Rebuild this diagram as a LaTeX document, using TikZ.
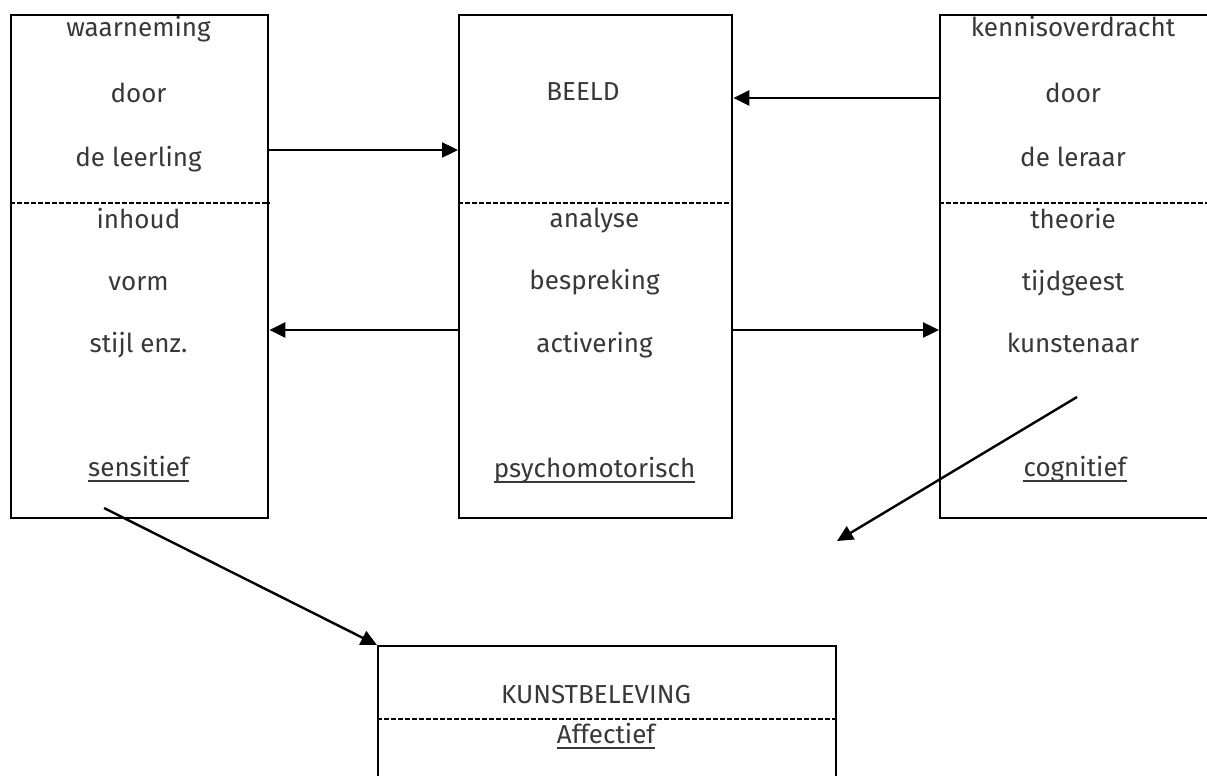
\documentclass[tikz,border=0pt]{standalone}
\usepackage{fontspec}
\setmainfont{Fira Sans}
\usepackage{xcolor}
\usetikzlibrary{arrows.meta}
\definecolor{txtgrey}{HTML}{383838}
\tikzset{
  box/.style={draw, line width=2.4pt, anchor=north west, inner sep=0pt},
  divider/.style={line width=1.4pt, dash pattern=on 4.5pt off 2.5pt},
  lbl/.style={anchor=base, inner sep=0pt, text=txtgrey, font=\fontsize{26}{30}\selectfont},
  uline/.style={line width=1.8pt, draw=txtgrey},
  arr/.style={line width=2.4pt, -{Triangle[length=16pt,width=15pt]}}
}

\begin{document}
\begin{tikzpicture}[x=1pt,y=-1pt]
\useasboundingbox (0,0) rectangle (1207,776);
\clip (0,0) rectangle (1207,776);
% boxes
\node[box, minimum width=257pt, minimum height=503pt] (lbox) at (10,14) {};
\node[box, minimum width=273pt, minimum height=503pt] (mbox) at (458,14) {};
\node[box, minimum width=272pt, minimum height=503pt] (rbox) at (939,14) {};
\node[box, minimum width=458pt, minimum height=200pt] (bbox) at (377,645) {};
\coordinate (cut) at (0,203);
\coordinate (cutb) at (0,719);
\draw[divider] (lbox.west |- cut) -- (lbox.east |- cut);
\draw[divider] (mbox.west |- cut) -- (mbox.east |- cut);
\draw[divider] (rbox.west |- cut) -- (rbox.east |- cut);
\draw[divider] (bbox.west |- cutb) -- (bbox.east |- cutb);
% texts
\foreach \t/\y [count=\i] in {waarneming/37, door/102, de leerling/166, inhoud/228, vorm/290, stijl enz./352}
	{
	\node[lbl] (l\i) at (138.5,\y) {\t};
	}
\foreach \t/\y [count=\i] in {analyse/227, bespreking/289, activering/352}
	{
	\node[lbl] (m\i) at (594.5,\y) {\t};
	}
\foreach \t/\y [count=\i] in {kennisoverdracht/37, door/102, de leraar/166, theorie/228, tijdgeest/290, kunstenaar/352}
	{
	\node[lbl] (r\i) at (1073,\y) {\t};
	}
\node[lbl] (beeld) at (583,100) {BEELD};
\node[lbl] (kunst) at (596,703) {KUNSTBELEVING};
\node[lbl] (sens) at (138.5,476) {sensitief};
\node[lbl] (psy) at (594.5,477) {psychomotorisch};
\node[lbl] (cog) at (1075,476) {cognitief};
\node[lbl] (aff) at (606,743) {Affectief};
\foreach \n in {sens,psy,cog,aff}
	{
	\draw[uline] ([yshift=-5pt]\n.base west) -- ([yshift=-5pt]\n.base east);
	}
% arrows
\coordinate (hi) at (0,150);
\coordinate (top) at (0,98);
\coordinate (mid) at (0,330);
\draw[arr] (lbox.east |- hi) -- (mbox.west |- hi);
\draw[arr] (rbox.west |- top) -- (mbox.east |- top);
\draw[arr] (mbox.west |- mid) -- (lbox.east |- mid);
\draw[arr] (mbox.east |- mid) -- (rbox.west |- mid);
\coordinate (s1) at (104,508);
\coordinate (s2) at (1077,397);
\coordinate (e2) at (837,541);
\draw[arr] (s1) -- (bbox.north west);
\draw[arr] (s2) -- (e2);
\end{tikzpicture}
\end{document}
